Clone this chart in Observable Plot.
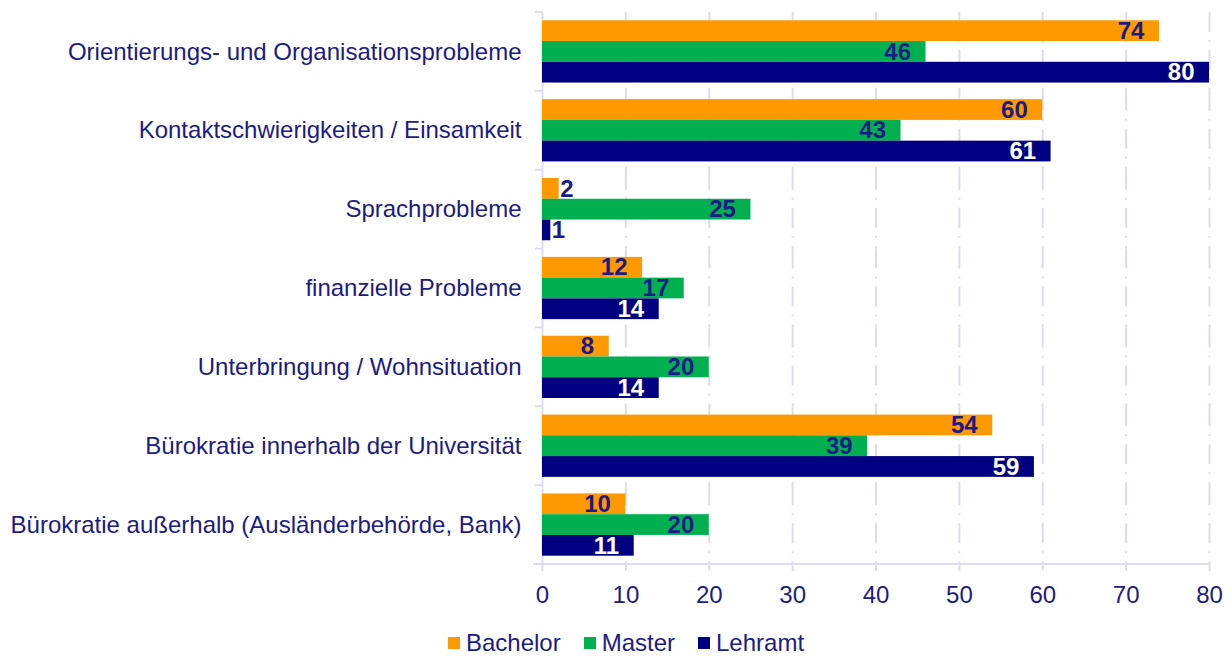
<!DOCTYPE html>
<html>
<head>
<meta charset="utf-8">
<script src="https://cdn.jsdelivr.net/npm/d3@7"></script>
<script src="https://cdn.jsdelivr.net/npm/@observablehq/plot@0.6"></script>
<style>
  html, body { margin: 0; padding: 0; background: #ffffff; }
  body { font-family: "Liberation Sans", Arial, sans-serif; width: 1232px; height: 657px; overflow: hidden; }
  #chart svg { display: block; }
  .legend { display: flex; justify-content: center; align-items: center; padding-left: 20px; height: 40px; font-size: 24px; color: #1b1b87; }
  .legend .item { display: flex; align-items: center; margin-right: 23px; }
  .legend .item:last-child { margin-right: 0; }
  .legend .sw { width: 12px; height: 12px; margin-right: 6px; }
</style>
</head>
<body>
<div id="chart"></div>
<div class="legend" id="legend"></div>
<script>
const categories = [
  "Orientierungs- und Organisationsprobleme",
  "Kontaktschwierigkeiten / Einsamkeit",
  "Sprachprobleme",
  "finanzielle Probleme",
  "Unterbringung / Wohnsituation",
  "Bürokratie innerhalb der Universität",
  "Bürokratie außerhalb (Ausländerbehörde, Bank)"
];
const seriesNames = ["Bachelor", "Master", "Lehramt"];
const bachelor = [74, 60, 2, 12, 8, 54, 10];
const master   = [46, 43, 25, 17, 20, 39, 20];
const lehramt  = [80, 61, 1, 14, 14, 59, 11];
const xTicks = [0, 10, 20, 30, 40, 50, 60, 70, 80];
const colors = ["#ff9900", "#00b050", "#000080"];

const textColor = "#1b1b87";
const gridColor = "#dcdcef";

const seriesValues = [bachelor, master, lehramt];
const rows = [];
categories.forEach((c, i) => {
  seriesNames.forEach((s, j) => rows.push({category: c, series: s, value: seriesValues[j][i]}));
});

const chart = Plot.plot({
  width: 1232,
  height: 623,
  marginLeft: 542,
  marginRight: 23,
  marginTop: 12,
  marginBottom: 59,
  style: {fontFamily: "'Liberation Sans', Arial, sans-serif", fontSize: "24px", color: textColor, background: "#ffffff"},
  facet: {data: rows, y: "category"},
  fy: {domain: categories, padding: 0, round: false, axis: "left", tickSize: 0, tickPadding: 21, label: null},
  y: {domain: seriesNames, paddingInner: 0, paddingOuter: 0.4, round: false, axis: null},
  x: {domain: [0, 80], ticks: xTicks, tickSize: 7, tickPadding: 14, label: null, axis: "bottom"},
  color: {domain: seriesNames, range: colors},
  marks: [
    Plot.ruleX(xTicks.filter(t => t > 0), {stroke: gridColor, strokeWidth: 2, strokeDasharray: "20,8,2,8"}),
    Plot.ruleX([0], {stroke: gridColor, strokeWidth: 2}),
    Plot.barX(rows, {x: "value", y: "series", fill: "series"}),
    Plot.text(rows, {filter: d => d.value >= 5 && d.series !== "Lehramt", x: "value", y: "series", text: d => String(d.value), textAnchor: "end", dx: -15, fill: textColor, fontWeight: "bold", fontSize: 24}),
    Plot.text(rows, {filter: d => d.value >= 5 && d.series === "Lehramt", x: "value", y: "series", text: d => String(d.value), textAnchor: "end", dx: -15, fill: "#ffffff", fontWeight: "bold", fontSize: 24}),
    Plot.text(rows, {filter: d => d.value < 5, x: "value", y: "series", text: d => String(d.value), textAnchor: "start", dx: 1, fill: textColor, fontWeight: "bold", fontSize: 24})
  ]
});

document.getElementById("chart").appendChild(chart);

// axis styling: ticks and lines in light lavender
d3.select(chart).selectAll("[aria-label^='x-axis'] path, [aria-label^='x-axis'] line, [aria-label^='fy-axis'] path, [aria-label^='fy-axis'] line")
  .attr("stroke", gridColor).attr("stroke-width", 2);

// category boundary ticks on left axis and bottom axis line
const fyScale = chart.scale("fy");
const xScale = chart.scale("x");
const xZero = xScale.apply ? xScale.apply(0) : xScale.range[0];
const xEnd = xScale.apply ? xScale.apply(80) : xScale.range[1];
const nCat = fyScale.domain.length;
const fyTop = fyScale.apply ? fyScale.apply(fyScale.domain[0]) : fyScale.range[0];
const fyStep = fyScale.step || fyScale.bandwidth || ((fyScale.range[1] - fyScale.range[0]) / nCat);
const gBound = d3.select(chart).append("g").attr("aria-label", "category boundaries");
for (let i = 0; i <= nCat; i++) {
  const yy = fyTop + i * fyStep;
  gBound.append("line").attr("x1", xZero - 7).attr("x2", xZero).attr("y1", yy).attr("y2", yy)
    .attr("stroke", gridColor).attr("stroke-width", 2);
}
gBound.append("line").attr("x1", xZero - 9).attr("x2", xEnd).attr("y1", fyTop + nCat * fyStep).attr("y2", fyTop + nCat * fyStep)
  .attr("stroke", gridColor).attr("stroke-width", 2);

// legend
const legendDiv = d3.select("#legend");
seriesNames.forEach((s, i) => {
  const it = legendDiv.append("div").attr("class", "item");
  it.append("div").attr("class", "sw").style("background", colors[i]);
  it.append("span").text(s);
});
</script>
</body>
</html>
